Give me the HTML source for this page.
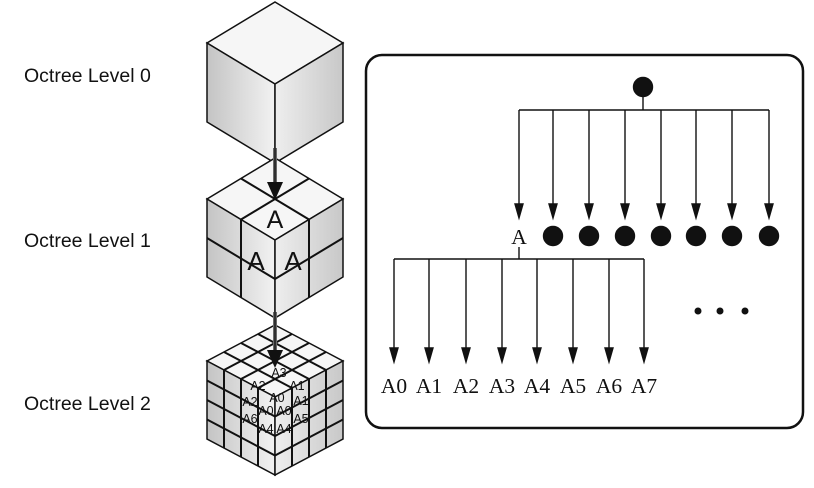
<!DOCTYPE html>
<html><head><meta charset="utf-8"><style>
html,body{margin:0;padding:0;background:#fff;width:814px;height:488px;overflow:hidden}
svg{display:block}
</style></head><body>
<svg width="814" height="488" viewBox="0 0 814 488">
<defs>
<linearGradient id="gl" x1="0" y1="0" x2="1" y2="0"><stop offset="0" stop-color="#c4c4c4"/><stop offset="1" stop-color="#f2f2f2"/></linearGradient>
<linearGradient id="gr" x1="0" y1="0" x2="1" y2="0"><stop offset="0" stop-color="#eeeeee"/><stop offset="1" stop-color="#c8c8c8"/></linearGradient>
<linearGradient id="ga" x1="0" y1="0" x2="1" y2="0"><stop offset="0" stop-color="#888"/><stop offset="0.5" stop-color="#111"/><stop offset="1" stop-color="#888"/></linearGradient>
</defs>
<g font-family="Liberation Sans, sans-serif" font-size="19.5" fill="#111">
<text x="24" y="82">Octree Level 0</text>
<text x="24" y="247">Octree Level 1</text>
<text x="24" y="410">Octree Level 2</text>
</g>
<g id="cubes"></g>
<rect x="366" y="55" width="437" height="373" rx="16" fill="none" stroke="#111" stroke-width="2.5"/>
<g id="tree" stroke="#111" stroke-width="1.4" fill="#111"></g>
<g font-family="Liberation Serif, serif" font-size="21.5" fill="#111" id="treetext"></g>
</svg>
<script>
const NS='http://www.w3.org/2000/svg';
function el(tag,attrs,parent){const e=document.createElementNS(NS,tag);for(const k in attrs)e.setAttribute(k,attrs[k]);parent.appendChild(e);return e;}
const cubes=document.getElementById('cubes');
const cubeDefs=[{top:2,hh:41,side:79,n:1},{top:158,hh:41,side:78,n:2},{top:325,hh:36,side:78,n:4}];
function lerp(a,b,t){return [a[0]+(b[0]-a[0])*t,a[1]+(b[1]-a[1])*t];}
function faceGrid(g,A,B,D,n){
  for(let i=1;i<n;i++){const t=i/n;
    const p1=lerp(A,B,t),q1=[p1[0]+D[0]-A[0],p1[1]+D[1]-A[1]];
    el('line',{x1:p1[0],y1:p1[1],x2:q1[0],y2:q1[1],stroke:'#111','stroke-width':2},g);
    const p2=lerp(A,D,t),q2=[p2[0]+B[0]-A[0],p2[1]+B[1]-A[1]];
    el('line',{x1:p2[0],y1:p2[1],x2:q2[0],y2:q2[1],stroke:'#111','stroke-width':2},g);}
}
cubeDefs.forEach((c,ci)=>{
  const cx=275,hw=68;
  const T=[cx,c.top],L=[cx-hw,c.top+c.hh],C=[cx,c.top+2*c.hh],R=[cx+hw,c.top+c.hh];
  const BL=[L[0],L[1]+c.side],B=[cx,C[1]+c.side],BR=[R[0],R[1]+c.side];
  const g=el('g',{},cubes);
  
  
  const pts=a=>a.map(p=>p.join(',')).join(' ');
  el('polygon',{points:pts([T,R,C,L]),fill:'#f6f6f6',stroke:'#111','stroke-width':1.5},g);
  el('polygon',{points:pts([L,C,B,BL]),fill:'url(#gl)',stroke:'#111','stroke-width':1.5},g);
  el('polygon',{points:pts([C,R,BR,B]),fill:'url(#gr)',stroke:'#111','stroke-width':1.5},g);
  faceGrid(g,T,L,R,c.n);faceGrid(g,L,C,BL,c.n);faceGrid(g,C,R,B,c.n);
});
[[148,200],[312,368]].forEach((a,i)=>{
  const g=el('g',{},cubes);
  
  
  el('rect',{x:273,y:a[0],width:4,height:a[1]-a[0]-16,fill:'url(#ga)'},g);
  el('polygon',{points:`267,${a[1]-18} 283,${a[1]-18} 275,${a[1]}`,fill:'#111'},g);
});
const lab=el('g',{'font-family':'Liberation Sans, sans-serif',fill:'#111'},cubes);
[[275,228,25,'A'],[256,270,26,'A'],[293,270,26,'A']].forEach(t=>{const e=el('text',{x:t[0],y:t[1],'font-size':t[2],'text-anchor':'middle'},lab);e.textContent=t[3];});
[[279,377,'A3'],[258,390,'A2'],[297,390,'A1'],[277,402,'A0'],[250,406,'A2'],[266,415,'A0'],[284,415,'A0'],[301,405,'A1'],[250,423,'A6'],[266,433,'A4'],[284,433,'A4'],[301,423,'A5']].forEach(t=>{const e=el('text',{x:t[0],y:t[1],'font-size':12.5,'text-anchor':'middle'},lab);e.textContent=t[2];});
const tree=document.getElementById('tree'),tt=document.getElementById('treetext');
const level1X=[519,553,589,625,661,696,732,769];
const level2X=[394,429,466,502,537,573,609,644];
const level2Labels=['A0','A1','A2','A3','A4','A5','A6','A7'];
const root=el('circle',{cx:643,cy:87,r:9.5},tree);


el('line',{x1:643,y1:96,x2:643,y2:110},tree);
el('line',{x1:level1X[0],y1:110,x2:level1X[7],y2:110},tree);
function arrow(x,y1,y2){el('line',{x1:x,y1:y1,x2:x,y2:y2-10},tree);el('polygon',{points:`${x-4},${y2-14} ${x+4},${y2-14} ${x},${y2}`},tree);}
level1X.forEach((x,i)=>{arrow(x,110,218);
  if(i>0){const c=el('circle',{cx:x,cy:236,r:9.5},tree);
    
    }
});
const a=el('text',{x:519,y:244,'text-anchor':'middle'},tt);a.textContent='A';


el('line',{x1:519,y1:247,x2:519,y2:259},tree);
el('line',{x1:level2X[0],y1:259,x2:level2X[7],y2:259},tree);
level2X.forEach((x,i)=>{arrow(x,259,362);
  const t=el('text',{x:x,y:393,'text-anchor':'middle'},tt);t.textContent=level2Labels[i];
  
  
});
[698,720,745].forEach(x=>el('circle',{cx:x,cy:311,r:2.8},tree));
</script>
</body></html>
